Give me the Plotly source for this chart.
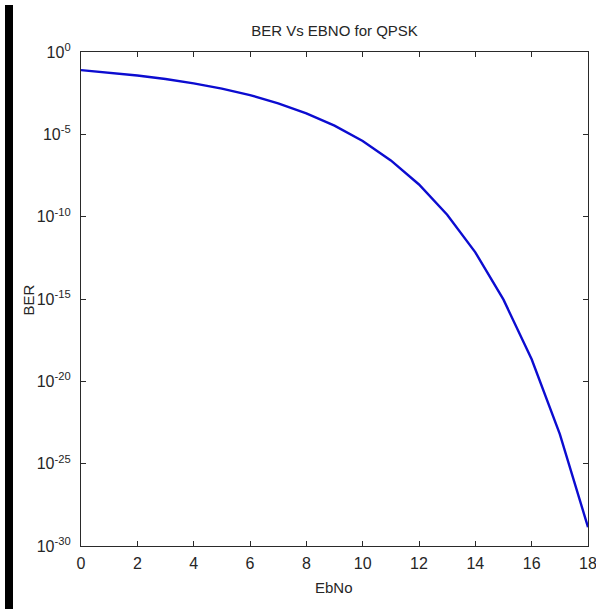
import plotly.graph_objects as go

# Data
ebno_db = [0, 1, 2, 3, 4, 5, 6, 7, 8, 9, 10, 11, 12, 13, 14, 15, 16, 17, 18]
ber = [7.9e-2, 5.6e-2, 3.75e-2, 2.3e-2, 1.25e-2, 6.0e-3, 2.4e-3, 7.7e-4,
       1.9e-4, 3.4e-5, 3.9e-6, 2.6e-7, 9.0e-9, 1.3e-10, 6.8e-13, 9.1e-16,
       2.2e-19, 6.3e-24, 1.4e-29]

x_ticks = [0, 2, 4, 6, 8, 10, 12, 14, 16, 18]
y_tick_exps = [0, -5, -10, -15, -20, -25, -30]
y_tick_vals = [10.0 ** e for e in y_tick_exps]
y_tick_text = ["10<sup>%d</sup>" % e for e in y_tick_exps]

W, H = 596, 609
L, R, T, B = 81, 8, 52, 63
pw, ph = W - L - R, H - T - B

font_fam = "Liberation Sans, Arial, sans-serif"
txt_col = "#262626"
ax_col = "#2a2a2a"

fig = go.Figure()
fig.add_trace(go.Scatter(
    x=ebno_db, y=ber, mode="lines",
    line=dict(color="#0c0cd0", width=2.4),
    showlegend=False, hoverinfo="skip",
))

def px_x(p):
    return (p - L) / pw

def px_y(p):
    return (H - B - p) / ph

fig.update_layout(
    width=W, height=H,
    margin=dict(l=L, r=R, t=T, b=B, autoexpand=False),
    paper_bgcolor="white", plot_bgcolor="white",
    font=dict(family=font_fam, size=15, color=txt_col),
    title=dict(text="BER Vs EBNO for QPSK", x=(L + pw / 2) / W, xanchor="center",
               y=1 - 31 / H, yanchor="middle", yref="container",
               font=dict(family=font_fam, size=15, color=txt_col)),
    annotations=[
        dict(text="EbNo", x=px_x(334), y=px_y(587), xref="paper", yref="paper",
             showarrow=False, xanchor="center", yanchor="middle",
             font=dict(family=font_fam, size=15, color=txt_col)),
        dict(text="BER", x=px_x(27.5), y=px_y(300), xref="paper", yref="paper",
             showarrow=False, xanchor="center", yanchor="middle", textangle=-90,
             font=dict(family=font_fam, size=15, color=txt_col)),
    ],
    shapes=[dict(type="rect", xref="paper", yref="paper",
                 x0=px_x(5), x1=px_x(13),
                 y0=px_y(609), y1=px_y(5),
                 fillcolor="black", line=dict(width=0), layer="above")],
)

fig.update_xaxes(
    range=[0, 18], tickvals=x_ticks, automargin=False,
    ticks="inside", ticklen=5, tickcolor=ax_col, tickwidth=1,
    showline=True, linecolor=ax_col, linewidth=1.3, mirror="ticks",
    showgrid=False, zeroline=False, ticklabeloverflow="allow",
    tickfont=dict(family=font_fam, size=16, color=txt_col),
    ticklabelstandoff=3,
)
fig.update_yaxes(
    type="log", range=[-30, 0], automargin=False,
    tickvals=y_tick_vals, ticktext=y_tick_text,
    ticks="inside", ticklen=5, tickcolor=ax_col, tickwidth=1,
    showline=True, linecolor=ax_col, linewidth=1.3, mirror="ticks",
    showgrid=False, zeroline=False, ticklabeloverflow="allow",
    tickfont=dict(family=font_fam, size=16, color=txt_col),
    ticklabelstandoff=6,
)

fig.write_html("out.html", config={"displayModeBar": False},
               post_script="document.body.style.margin='0';document.body.style.padding='0';")
